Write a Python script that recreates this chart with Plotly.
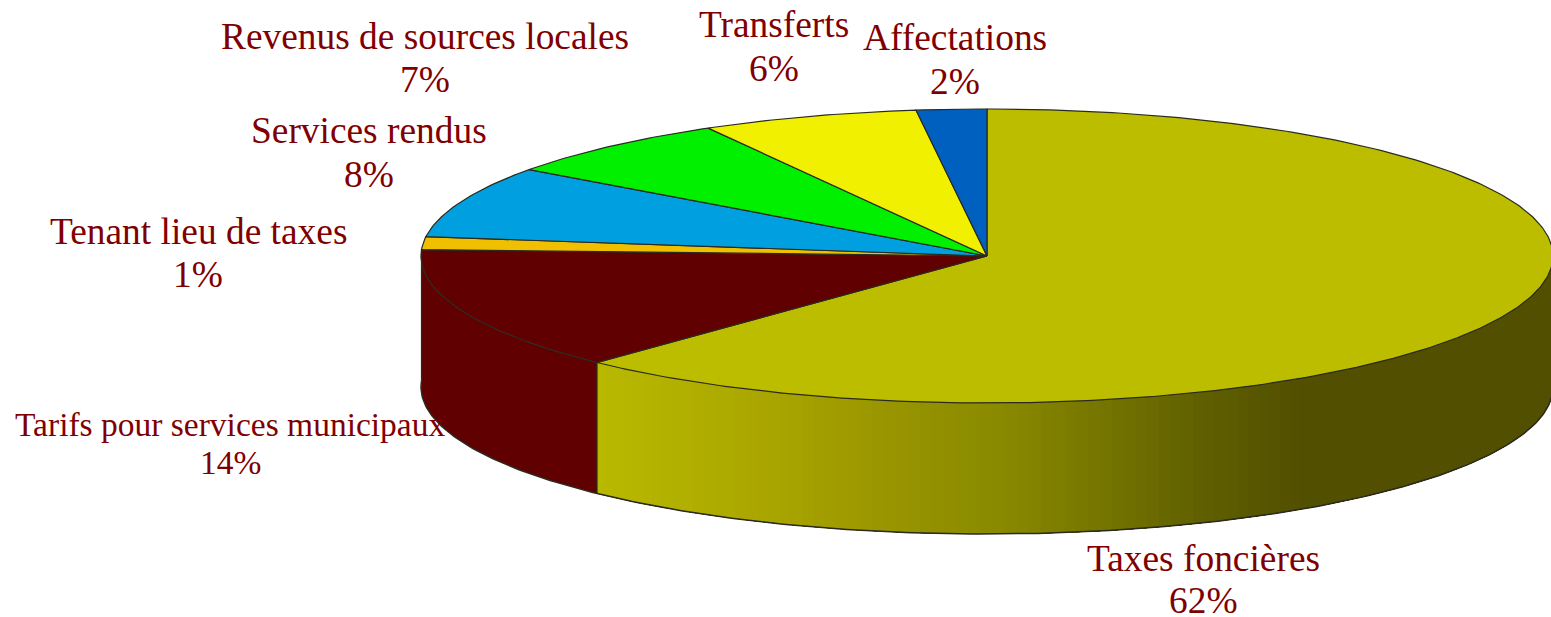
import numpy as np
import plotly.graph_objects as go

categories = ["Taxes foncières", "Tarifs pour services municipaux", "Tenant lieu de taxes",
              "Services rendus", "Revenus de sources locales", "Transferts", "Affectations"]
values = [62.1, 13.6, 1.4, 7.9, 6.8, 6.2, 2.0]
slice_colors = ["#bdbd00", "#600000", "#f0c000", "#00a0e0", "#00f000", "#f0f000", "#0060c0"]

# pie geometry (pixel space)
CX, CY, RX, RY, DEPTH = 987, 256, 566, 147, 131
W, H = 1551, 617
EDGE = "#2a2a20"
TEXT = "#800000"

# label placement: (x, name y, percent y, font size)
label_pos = [(1203, 558, 600, 37.4), (230, 424, 462, 33.5), (198, 231, 274, 37.4),
             (369, 130, 174, 37.4), (425, 36, 79, 37.4), (774, 24, 68, 37.4), (955, 37, 81, 37.4)]

# side shading: x pixel -> colour
shade_x = [596, 780, 880, 1000, 1100, 1200, 1300, 1552]
shade_c = [(185, 185, 0), (168, 164, 0), (154, 150, 0), (138, 138, 0),
           (117, 117, 0), (96, 96, 0), (82, 80, 0), (82, 80, 0)]


def ell(theta, dy=0.0):
    return CX + RX * np.sin(theta), CY + dy - RY * np.cos(theta)


def arc(a, b, n=None):
    n = n or max(3, int(abs(b - a) * 90))
    return np.linspace(a, b, n)


fractions = np.cumsum([0] + values) / sum(values) * 2 * np.pi
fig = go.Figure()


def poly(x, y, fill, line=None, width=1.2):
    fig.add_trace(go.Scatter(
        x=list(x), y=list(y), mode="lines", fill="toself", fillcolor=fill,
        line=dict(color=line or fill, width=width if line else 0),
        hoverinfo="skip", showlegend=False))


def stroke(x, y, width=1.3):
    fig.add_trace(go.Scatter(x=list(x), y=list(y), mode="lines",
                             line=dict(color=EDGE, width=width),
                             hoverinfo="skip", showlegend=False))


a1, a2 = fractions[1], fractions[2]
front_start = np.pi / 2

# first slice wall: overlapping layers, each one reaching the far end, so no seams show
edges = np.linspace(front_start, a1, 110)
for s, e in zip(edges[:-1], edges[1:]):
    t = arc(s, a1, 60)
    xt, yt = ell(t)
    xb, yb = ell(t[::-1], DEPTH)
    mid = CX + RX * np.sin((s + e) / 2)
    rgb = [int(round(np.interp(mid, shade_x, [c[i] for c in shade_c]))) for i in range(3)]
    poly(np.r_[xt, xb, xt[0]], np.r_[yt, yb, yt[0]], "rgb(%d,%d,%d)" % tuple(rgb))

# second slice wall
t = arc(a1, a2)
xt, yt = ell(t)
xb, yb = ell(t[::-1], DEPTH)
poly(np.r_[xt, xb, xt[0]], np.r_[yt, yb, yt[0]], slice_colors[1])

# top faces
for i in range(len(values)):
    t = arc(fractions[i], fractions[i + 1])
    x, y = ell(t)
    poly(np.r_[CX, x, CX], np.r_[CY, y, CY], slice_colors[i], EDGE, 1.2)

# wall outlines
t = arc(front_start, a2, 300)
xb, yb = ell(t, DEPTH)
stroke(xb, yb, 1.5)
for a in (a1, a2):
    xs, ys = ell(np.array([a, a]), np.array([0, DEPTH]))
    stroke(xs, ys)

# labels
annotations = []
for name, v, (lx, ny, py, fs) in zip(categories, values, label_pos):
    for txt, yy in ((name, ny), (f"{v:.0f}%", py)):
        annotations.append(dict(x=lx, y=yy, xref="x", yref="y", text=txt, showarrow=False,
                                xanchor="center", yanchor="middle",
                                font=dict(family="Liberation Serif", size=fs, color=TEXT)))

fig.update_layout(
    width=W, height=H, margin=dict(l=0, r=0, t=0, b=0, pad=0),
    paper_bgcolor="white", plot_bgcolor="white", showlegend=False,
    annotations=annotations,
    xaxis=dict(range=[0, W], visible=False, fixedrange=True),
    yaxis=dict(range=[H, 0], visible=False, fixedrange=True),
)
fig.write_html("out.html", config=dict(displayModeBar=False),
               post_script="document.body.style.margin='0';")
